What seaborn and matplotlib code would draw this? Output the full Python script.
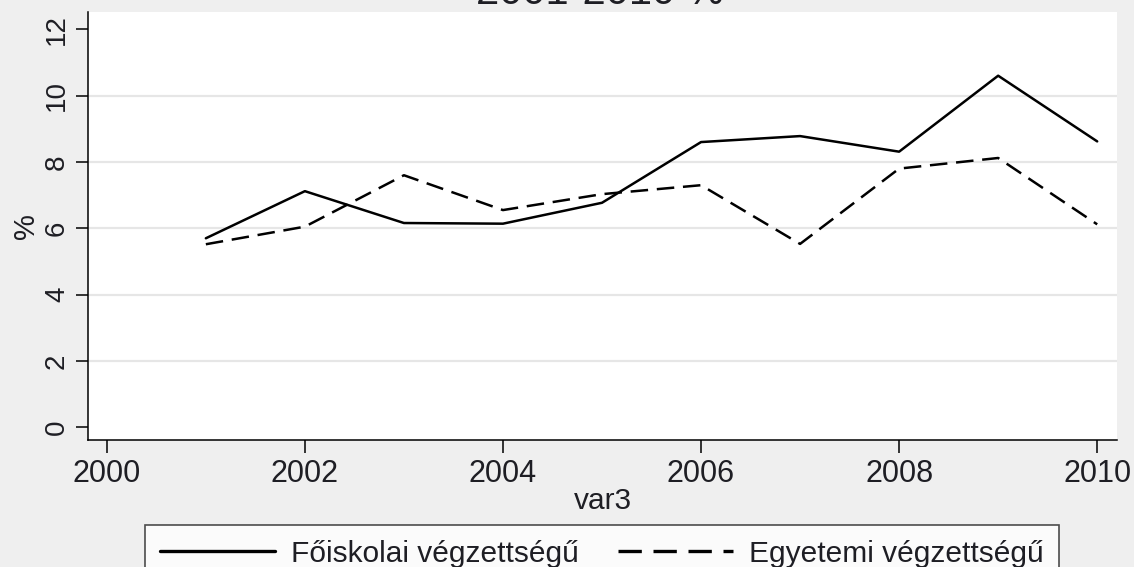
import matplotlib
matplotlib.use("Agg")
import matplotlib.pyplot as plt
import seaborn as sns
import pandas as pd

# ---- data ----
years = [2001, 2002, 2003, 2004, 2005, 2006, 2007, 2008, 2009, 2010]
foiskolai = [5.70, 7.12, 6.16, 6.14, 6.77, 8.60, 8.78, 8.31, 10.60, 8.62]
egyetemi = [5.52, 6.05, 7.60, 6.55, 7.03, 7.30, 5.53, 7.80, 8.12, 6.12]
series_names = ["Főiskolai végzettségű", "Egyetemi végzettségű"]
x_ticks = [2000, 2002, 2004, 2006, 2008, 2010]
y_ticks = [0, 2, 4, 6, 8, 10, 12]
title = "2001-2010 %"
x_label = "var3"
y_label = "%"

df = pd.DataFrame({
    "year": years * 2,
    "value": foiskolai + egyetemi,
    "series": [series_names[0]] * len(years) + [series_names[1]] * len(years),
})

sns.set_theme(style="white")
plt.rcParams["font.family"] = ["Liberation Sans", "DejaVu Sans"]
TXT = "#1e1e24"
BG = "#efefef"

fig = plt.figure(figsize=(11.34, 5.67), dpi=100, facecolor=BG)
ax = fig.add_axes([88 / 1134, 1 - 440 / 567, (1117 - 88) / 1134, (440 - 12) / 567])
ax.set_facecolor("white")

sns.lineplot(data=df, x="year", y="value", style="series", hue="series",
             palette=["black", "black"],
             dashes={series_names[0]: "", series_names[1]: (7.0, 3.5)},
             linewidth=1.8, ax=ax, legend=True, sort=False)

ax.set_xlim(1999.81, 2010.2)
ax.set_ylim(-0.38, 12.52)
ax.set_xticks(x_ticks)
ax.set_yticks(y_ticks)
for v in y_ticks[1:-1]:
    ax.axhline(v, color="#e6e6e6", lw=1.6, zorder=0)

for s in ["top", "right"]:
    ax.spines[s].set_visible(False)
for s in ["left", "bottom"]:
    ax.spines[s].set_color("black")
    ax.spines[s].set_linewidth(1.1)

ax.tick_params(axis="x", which="both", bottom=True, length=9, width=1.1,
               color="black", labelsize=22, labelcolor=TXT, pad=5)
ax.tick_params(axis="y", which="both", left=True, length=9, width=1.1,
               color="black", labelsize=20, labelcolor=TXT, pad=4,
               labelrotation=90)
for lab in ax.get_yticklabels():
    lab.set_va("center")

ax.set_xlabel(x_label, fontsize=21.5, color=TXT, labelpad=-2)
ax.set_ylabel(y_label, fontsize=21, color=TXT, labelpad=3)

handles, labels = ax.get_legend_handles_labels()
ax.get_legend().remove()
leg = fig.legend(handles, labels, loc="upper center",
                 bbox_to_anchor=(602 / 1134, 1 - 525 / 567), ncol=2,
                 fontsize=21.5, frameon=True, fancybox=False,
                 handlelength=3.85, handletextpad=0.55, columnspacing=1.3,
                 borderpad=0.5, borderaxespad=0)
leg.get_frame().set_edgecolor("#222222")
leg.get_frame().set_linewidth(1.2)
leg.get_frame().set_facecolor("white")
for t in leg.get_texts():
    t.set_color(TXT)
for h in leg.get_lines():
    h.set_linewidth(2.4)

fig.text(600 / 1134, 1 - 4 / 567, title, ha="center", va="baseline",
         fontsize=30, color=TXT)

fig.savefig("out.png", dpi=100, facecolor=BG)
